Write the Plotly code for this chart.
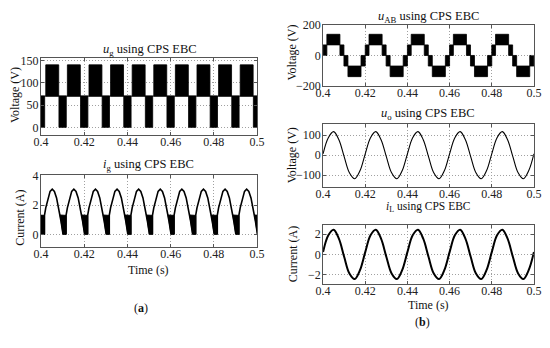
import plotly.graph_objects as go

W, H = 550, 348
FONT = "'Liberation Serif', 'Times New Roman', serif"

# ---------------- data ----------------
t_ticks = [0.4, 0.42, 0.44, 0.46, 0.48, 0.5]
t_labels = ["0.4", "0.42", "0.44", "0.46", "0.48", "0.5"]

# (a) u_g : switching bands (dense PWM drawn as filled blocks)
ug_levels = [0, 70, 140]
ug_upper_start = [0.4022, 0.4122, 0.4222, 0.4322, 0.4422, 0.4522, 0.4622, 0.4722, 0.4822, 0.4922]
ug_upper_end = [0.4082, 0.4182, 0.4282, 0.4382, 0.4482, 0.4582, 0.4682, 0.4782, 0.4882, 0.4982]
ug_lower_start = [0.3983, 0.4083, 0.4183, 0.4283, 0.4383, 0.4483, 0.4583, 0.4683, 0.4783, 0.4883, 0.4983]
ug_lower_end = [0.4017, 0.4117, 0.4217, 0.4317, 0.4417, 0.4517, 0.4617, 0.4717, 0.4817, 0.4917, 0.5017]

# (a) i_g : rectified humps (one hump shape) + ripple wedges
ig_zero = [0.3902, 0.4002, 0.4102, 0.4202, 0.4302, 0.4402, 0.4502, 0.4602, 0.4702, 0.4802, 0.4902]
hump_dt = [0.0014, 0.0014, 0.0020, 0.0030, 0.0040, 0.0050, 0.0060, 0.0070, 0.0080, 0.0090, 0.0097, 0.0100]
hump_i = [0.0, 1.30, 1.81, 2.49, 2.93, 3.08, 2.93, 2.49, 1.81, 0.95, 0.29, 0.0]
ripple_dt = [0.0086, 0.0093, 0.0100, 0.0114, 0.0114, 0.0086]
ripple_i = [1.33, 0.67, 0.0, 0.0, 1.30, 1.33]

# (b) u_AB : five-level staircase, switching bands
uab_levels = [-140, -70, 0, 70, 140]
uab_p2_start = [0.4018, 0.4218, 0.4418, 0.4618, 0.4818]
uab_p2_end = [0.4080, 0.4280, 0.4480, 0.4680, 0.4880]
uab_p1_start = [0.4000, 0.4080, 0.4200, 0.4280, 0.4400, 0.4480, 0.4600, 0.4680, 0.4800, 0.4880]
uab_p1_end = [0.4018, 0.4099, 0.4218, 0.4299, 0.4418, 0.4499, 0.4618, 0.4699, 0.4818, 0.4899]
uab_n1_start = [0.4099, 0.4180, 0.4299, 0.4380, 0.4499, 0.4580, 0.4699, 0.4780, 0.4899, 0.4980]
uab_n1_end = [0.4118, 0.4200, 0.4318, 0.4400, 0.4518, 0.4600, 0.4718, 0.4800, 0.4918, 0.5000]
uab_n2_start = [0.4118, 0.4318, 0.4518, 0.4718, 0.4918]
uab_n2_end = [0.4180, 0.4380, 0.4580, 0.4780, 0.4980]

# (b) u_o and i_L sampled every 2.5 ms
t_s = [0.4, 0.4025, 0.405, 0.4075, 0.41, 0.4125, 0.415, 0.4175,
       0.42, 0.4225, 0.425, 0.4275, 0.43, 0.4325, 0.435, 0.4375,
       0.44, 0.4425, 0.445, 0.4475, 0.45, 0.4525, 0.455, 0.4575,
       0.46, 0.4625, 0.465, 0.4675, 0.47, 0.4725, 0.475, 0.4775,
       0.48, 0.4825, 0.485, 0.4875, 0.49, 0.4925, 0.495, 0.4975, 0.5]
u_o = [7, 88, 118, 78, -7, -88, -118, -78,
       7, 88, 118, 78, -7, -88, -118, -78,
       7, 88, 118, 78, -7, -88, -118, -78,
       7, 88, 118, 78, -7, -88, -118, -78,
       7, 88, 118, 78, -7, -88, -118, -78, 7]
i_L = [0.23, 1.89, 2.44, 1.56, -0.23, -1.89, -2.44, -1.56,
       0.23, 1.89, 2.44, 1.56, -0.23, -1.89, -2.44, -1.56,
       0.23, 1.89, 2.44, 1.56, -0.23, -1.89, -2.44, -1.56,
       0.23, 1.89, 2.44, 1.56, -0.23, -1.89, -2.44, -1.56,
       0.23, 1.89, 2.44, 1.56, -0.23, -1.89, -2.44, -1.56, 0.23]

# ---------------- helpers ----------------
def blocks(starts, ends, lo, hi):
    xs, ys = [], []
    for s, e in zip(starts, ends):
        xs += [s, e, e, s, s, None]
        ys += [lo, lo, hi, hi, lo, None]
    return xs, ys

def block_trace(starts, ends, lo, hi, xa, ya):
    xs, ys = blocks(starts, ends, lo, hi)
    return go.Scatter(x=xs, y=ys, mode="lines", fill="toself", fillcolor="black",
                      line=dict(color="black", width=0.8), xaxis=xa, yaxis=ya,
                      hoverinfo="skip")

fig = go.Figure()

# u_g
fig.add_trace(go.Scatter(x=[t_ticks[0], t_ticks[-1]], y=[ug_levels[1], ug_levels[1]], mode="lines",
                         line=dict(color="black", width=1), xaxis="x", yaxis="y"))
fig.add_trace(block_trace(ug_upper_start, ug_upper_end, ug_levels[1], ug_levels[2], "x", "y"))
fig.add_trace(block_trace(ug_lower_start, ug_lower_end, ug_levels[0], ug_levels[1], "x", "y"))

# i_g
hx, hy, rx, ry = [], [], [], []
for z in ig_zero:
    hx += [z + d for d in hump_dt] + [None]
    hy += hump_i + [None]
    rx += [z + d for d in ripple_dt] + [None]
    ry += ripple_i + [None]
fig.add_trace(go.Scatter(x=rx, y=ry, mode="lines", fill="toself", fillcolor="black",
                         line=dict(color="black", width=0.8), xaxis="x2", yaxis="y2"))
fig.add_trace(go.Scatter(x=hx, y=hy, mode="lines", line=dict(color="black", width=1.6),
                         xaxis="x2", yaxis="y2"))

# u_AB
fig.add_trace(block_trace(uab_p2_start, uab_p2_end, uab_levels[3], uab_levels[4], "x3", "y3"))
fig.add_trace(block_trace(uab_p1_start, uab_p1_end, uab_levels[2], uab_levels[3], "x3", "y3"))
fig.add_trace(block_trace(uab_n1_start, uab_n1_end, uab_levels[1], uab_levels[2], "x3", "y3"))
fig.add_trace(block_trace(uab_n2_start, uab_n2_end, uab_levels[0], uab_levels[1], "x3", "y3"))

# u_o, i_L
fig.add_trace(go.Scatter(x=t_s, y=u_o, mode="lines", line=dict(color="black", width=1.1, shape="spline"),
                         xaxis="x4", yaxis="y4"))
fig.add_trace(go.Scatter(x=t_s, y=i_L, mode="lines", line=dict(color="black", width=2, shape="spline"),
                         xaxis="x5", yaxis="y5"))

# ---------------- layout ----------------
def px_dom_x(a, b):
    return [a / W, b / W]

def px_dom_y(top, bottom):
    return [1 - bottom / H, 1 - top / H]

base = dict(showline=True, mirror="ticks", linecolor="#555", linewidth=1,
            ticks="inside", ticklen=3, tickcolor="#555",
            showgrid=True, gridcolor="#a0a0a0", griddash="1px,2px", gridwidth=1,
            zeroline=False, tickfont=dict(family=FONT, size=12, color="#222"))

def xa(dom, anchor):
    return dict(base, domain=dom, anchor=anchor, range=[0.4, 0.5],
                tickmode="array", tickvals=t_ticks, ticktext=t_labels,
                ticklabelstandoff=-4)

def ya(dom, anchor, rng, vals):
    return dict(base, domain=dom, anchor=anchor, range=rng,
                tickmode="array", tickvals=vals, ticklabelstandoff=-1)

xa_a = px_dom_x(34, 256.5)
xa_b = px_dom_x(324.5, 541.7)

fig.update_layout(
    width=W, height=H, margin=dict(l=0, r=0, t=0, b=0),
    paper_bgcolor="white", plot_bgcolor="white", showlegend=False,
    xaxis=xa(xa_a, "y"), yaxis=ya(px_dom_y(53.3, 133.3), "x", [-17, 155], [0, 50, 100, 150]),
    xaxis2=xa(xa_a, "y2"), yaxis2=ya(px_dom_y(175, 250), "x2", [-0.85, 4.05], [0, 2, 4]),
    xaxis3=xa(xa_b, "y3"), yaxis3=ya(px_dom_y(19, 82), "x3", [-200, 200], [-200, 0, 200]),
    xaxis4=xa(xa_b, "y4"), yaxis4=ya(px_dom_y(122, 187.3), "x4", [-158, 156], [-100, 0, 100]),
    xaxis5=xa(xa_b, "y5"), yaxis5=ya(px_dom_y(227.3, 288.3), "x5", [-2.9, 2.9], [-2, 0, 2]),
)

def ann(text, x, y, size=12.5, angle=0):
    fig.add_annotation(text=text, x=x / W, y=1 - y / H, xref="paper", yref="paper",
                       showarrow=False, textangle=angle, xanchor="center", yanchor="middle",
                       font=dict(family=FONT, size=size, color="#111"))

ann("<i>u</i><sub>g</sub> using CPS EBC", 146, 45)
ann("<i>i</i><sub>g</sub> using CPS EBC", 145, 165)
ann("<i>u</i><sub>AB</sub> using CPS EBC", 433, 10)
ann("<i>u</i><sub>o</sub> using CPS EBC", 433, 112)
ann("<i>i</i><sub>L</sub> using CPS EBC", 433, 208, size=11.5)
ann("Time (s)", 145, 274, size=12)
ann("Time (s)", 433, 311, size=12)
ann("Voltage (V)", 8, 92, size=12, angle=-90)
ann("Current (A)", 12, 220, size=12, angle=-90)
ann("Voltage (V)", 293, 47, size=12, angle=-90)
ann("Voltage (V)", 292, 155, size=12, angle=-90)
ann("Current (A)", 293, 257, size=12, angle=-90)
ann("(<b>a</b>)", 137, 314, size=12)
ann("(<b>b</b>)", 427, 328, size=12)

fig.write_html("out.html", config={"displayModeBar": False},
               post_script="document.body.style.margin='0px';document.body.style.overflow='hidden';")
